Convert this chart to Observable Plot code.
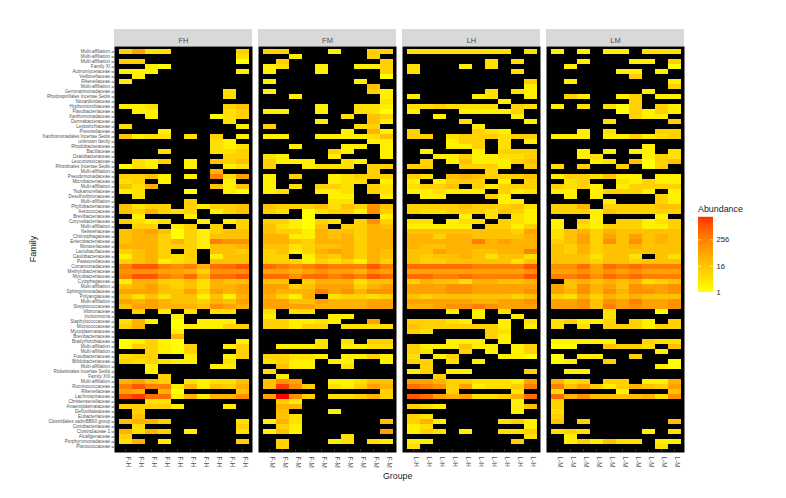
<!DOCTYPE html>
<html><head><meta charset="utf-8">
<script src="https://cdn.jsdelivr.net/npm/d3@7"></script>
<script src="https://cdn.jsdelivr.net/npm/@observablehq/plot@0.6"></script>
<style>
html,body{margin:0;padding:0;background:#fff;font-family:"Liberation Sans",Arial,sans-serif}
#wrap{position:relative;width:786px;height:498px;overflow:hidden}
#wrap svg{position:absolute;background:none}
.t{position:absolute;color:#1a1a1a;white-space:nowrap;line-height:1}
</style></head><body><div id="wrap"></div>
<script>
const panels = ["FH","FM","LH","LM"];
const groupLabels = {FH:"F-H",FM:"F-M",LH:"L-H",LM:"L-M"};
const families = ["Multi-affiliation","Multi-affiliation","Multi-affiliation","Family XI","Actinomycetaceae","Veillonellaceae","Rikenellaceae","Multi-affiliation","Gemmatimonadaceae","Rhodospirillales Incertae Sedis","Nocardioidaceae","Hyphomicrobiaceae","Flavobacteriaceae","Xanthomonadaceae","Dermabacteraceae","Leptotrichiaceae","Prevotellaceae","Xanthomonadales Incertae Sedis","unknown family","Rhodobacteraceae","Bacillaceae","Oxalobacteraceae","Leuconostocaceae","Rhizobiales Incertae Sedis","Multi-affiliation","Pseudomonadaceae","Microbacteriaceae","Multi-affiliation","Tsukamurellaceae","Desulfovibrionaceae","Multi-affiliation","Phyllobacteriaceae","Aerococcaceae","Brevibacteriaceae","Corynebacteriaceae","Multi-affiliation","Neisseriaceae","Chitinophagaceae","Enterobacteriaceae","Moraxellaceae","Lactobacillaceae","Caulobacteraceae","Pasteurellaceae","Comamonadaceae","Methylobacteriaceae","Mycobacteriaceae","Cytophagaceae","Multi-affiliation","Sphingomonadaceae","Polyangiaceae","Multi-affiliation","Streptococcaceae","Vibrionaceae","Incisiomonia","Staphylococcaceae","Micrococcaceae","Mycoplasmataceae","Brevibacteriaceae","Bradyrhizobiaceae","Multi-affiliation","Multi-affiliation","Fusobacteriaceae","Bifidobacteriaceae","Multi-affiliation","Rickettsiales Incertae Sedis","Family XIII","Multi-affiliation","Ruminococcaceae","Rikenellaceae","Lachnospiraceae","Christensenellaceae","Anaeroplasmataceae","Defluviitaleaceae","Eubacteriaceae","Clostridiales vadinBB60 group","Coriobacteriaceae","Clostridiaceae 1","Alcaligenaceae","Porphyromonadaceae","Planococcaceae"];
// one string per family, one character per sample: "." = absent, otherwise log2(abundance) in hex
const FH = ["3622.....3",".........2","33.......0","..10......","111......1",".1........","1.........","..........","........2.","........2.","..........","112.....34",".11.....23","..1....023","........2.","2........1","...1......","4122.2.3.1",".......21.",".......212","...2...223","........33",".213.1.434","021..1..12",".......5..","3341.1.826","23.1....1.","425....414","12...0..10",".2........",".....3....","4233.31334","435323.134",".1...1....","3212..1.13",".33.13.3.3","4564031344","4553031444","4553531877","5553331445","3453.3.443","145323.144","345123.444","8aa878599a","7776653777","8aa879599a","1553342544","4564342556","6664463656","4242441415","6565443546","4665554765",".3.1.2.22.","....1.....","251.0.111.","35..011133","....1.....","....5.....","01310....1","033103..13","..3103...3","233..1..13","323211..2.","..1....11.","..1.......","...3......","5643.21224","8a88151435","65.50....4","ab99151557","..22......","33331...1.",".3........",".4........","4553.....2",".2.......3","5253.1...2","3.........","25.1.....3",".........."];
const FM = ["33...1..33","..1.....3.",".3.......3","12..1..113","1...1....3",".........0","1......1..","........4.","1.......31","..1......1",".........2","....1..221","11..1..220","......2.43","....1...41","3......23.","......1.51","11..111124","........11","..1...11.1",".....31..1","21...1...1","3111..21..","3..1222.33","........3.","1.3..12333","1....122.1","1.2.332.32","12..112.32",".....11..1",".....22...","4333424374","32.0233173","...0.....1","331032.373","42104.3354","4331544355","5511545355","5543555355","4423445355","3413565354","33.1435354","3331323153","98789888a8","6656766576","99799898a9","44.3555244","6634666356","6555867577","5315.23323","6644655566","6666555566","2.22......","1....11...","331121..6.","33133.2222","..........","..........","....2.2.33",".1112.1122","..........","33221.1131","2311.11..1",".411..2...","2.........",".1........","476..11244","4b73.21365",".........3","6c73.22353",".31.......",".55.......",".4...1....",".42.......","152......4",".31.......","141......6","......2...",".3...12.21",".3........"];
const LH = ["22222222.2","..........","......2.2.","2...1.2...","2.......2.","..........",".........3",".........1","......2.21","1....12..1",".......1..","2232222.32","1...11113.","..1.....1.","....2....1",".....1....","3....321..","33.2333233","...133.2.1","...113.2..",".1...1.333","..11311223",".3.1411134","33..3331.3","......3...","32.4543334","1.1333.1.3","2334.31333","112111.312",".11...31..",".......11.","3333433342","3223332431","....1.2.21","22.122.321","11111.3313","4444444436","5535544445","5555585655","5445555555","4465544558","4344542442","4334444424","999998888a","6666666667","998898888a","3544255445","6667766666","6667766667","4344444434","6666655667","5567787666","...1.1.2..",".....1..1.","33321..1.2","43333331.1","32....32..","......31..","...111.1..","3111411.13","32..3.1.13","2.13...110","33.2.1....",".3........","13.11....3","..3.......","6653322216","9873612238","...3....2.","a965622359","........1.","321.....14","........1.","32........","351....231","12.......1","132.1..223",".........2","11......3.","2........."];
const LM = ["1.1.11.222","..........","..1...11.3",".1.......0",".....11.1.","......3...",".1.......1",".........3",".......1..",".31..13.11","......3...","1.2.203.31",".....03131","......311.","....2....3","..........","..1.2...33","111.113123","..........",".......1..","..1.1.11.2","..12...132","...12.4034","2.3..3.03.","..........","1332411.11",".23..21311","3231.13333","11.13331.1",".1.1....31","....1...31","335.333344","3331433333","...1....1.","1.31.33123","1.21333113","2453544444","2463646454","3463747454","4353445444","4353444444","4442442.42","4443443444","7796989888","6676767666","8897989888",".454545234","6475647667","6575757767","3253545444","6674768667","6674867667","....2...0.","....2.....","23113.31.3","2.2.333133","..........","..........","11111..322","00..4332.4","........1.","0.11..3...","01..3....0","........10",".11.......","..........","523.33.115","8463135436","2....1...4","9574444527","3.........","3.........","2.........","3.........","4.3......4","..........","232....1.2",".1........",".131422.11","........2."];
const legendTicks = [1,16,256];

const series = {FH,FM,LH,LM};
const columns = d3.range(10);
const rows = d3.range(80);
const cells = panels.flatMap(p => series[p].flatMap((s,r) => Array.from(s).flatMap((c,k) =>
  c === "." ? [] : [{panel:p,row:r,col:k,abundance:2**parseInt(c,16)}])));
const tickData = panels.flatMap(p => columns.map(k => ({panel:p,col:k,label:groupLabels[p]})));
const colorScale = {type:"log",base:2,domain:[1,4096],range:["#ffff00","#ff0000"],interpolate:"lab",clamp:true};

const main = Plot.plot({
  width:786,height:498,marginLeft:113.5,marginRight:102.5,marginTop:46,marginBottom:46,
  style:{background:"transparent",fontFamily:"'Liberation Sans',Arial,sans-serif"},
  fx:{domain:panels,paddingInner:6/144,paddingOuter:0,axis:null},
  x:{domain:columns,padding:0,axis:null},
  y:{domain:rows,padding:0,axis:null},
  color:colorScale,
  marks:[
    Plot.frame({fill:"black"}),
    Plot.rect(panels,{fx:d=>d,fill:"#d9d9d9",insetTop:-17,insetBottom:406}),
    Plot.text(panels,{fx:d=>d,text:d=>d,frameAnchor:"top",dy:-8.5,fontSize:7.5,fill:"#4d4d4d"}),
    Plot.cell(cells,{fx:"panel",x:"col",y:"row",fill:"abundance",shapeRendering:"crispEdges"}),
    Plot.axisY(rows,{anchor:"left",tickFormat:i=>families[i],label:null,tickSize:2.5,tickPadding:2,fontSize:4.6,color:"#555"}),
    Plot.tickX(tickData,{fx:"panel",x:"col",y:()=>79,insetTop:406/80,insetBottom:-2.5,stroke:"#444",strokeWidth:.7}),
    Plot.text(tickData,{fx:"panel",x:"col",text:"label",frameAnchor:"bottom",dy:4,rotate:90,textAnchor:"start",fontSize:6.4,fill:"#555"})
  ]
});
main.style.left="0";main.style.top="0";
const wrap=document.getElementById("wrap");
wrap.appendChild(main);

const ramp = d3.range(0,75).map(i=>2**(i/75*Math.log2(2700)));
const legend = Plot.plot({
  width:60,height:85,marginLeft:8,marginRight:37,marginTop:5,marginBottom:5,
  style:{background:"transparent",fontFamily:"'Liberation Sans',Arial,sans-serif"},
  x:{domain:[0,1],axis:null},
  y:{type:"log",base:2,domain:[1,2700],axis:null},
  color:colorScale,
  marks:[
    Plot.rect(ramp,{x1:0,x2:1,y1:d=>d,y2:d=>d*2**(Math.log2(2700)/75*1.2),fill:d=>d}),
    Plot.ruleY(legendTicks,{x1:0,x2:.2,stroke:"white",strokeWidth:.6}),
    Plot.ruleY(legendTicks,{x1:.8,x2:1,stroke:"white",strokeWidth:.6}),
    Plot.axisY(legendTicks,{anchor:"right",tickSize:0,tickPadding:3,label:null,tickFormat:d=>String(d),fontSize:7.6,color:"#1a1a1a"})
  ]
});
legend.style.left="690px";legend.style.top="212px";
wrap.appendChild(legend);

function addText(txt,x,y,size,rot){
  const d=document.createElement("div");d.className="t";d.textContent=txt;
  d.style.left=x+"px";d.style.top=y+"px";d.style.fontSize=size+"px";
  if(rot)d.style.transform="translate(-50%,-50%) rotate(-90deg)";
  wrap.appendChild(d);
}
addText("Family",33,249,9,true);
addText("Groupe",383,472,8.8);
addText("Abundance",698,205,8.9);
</script></body></html>
